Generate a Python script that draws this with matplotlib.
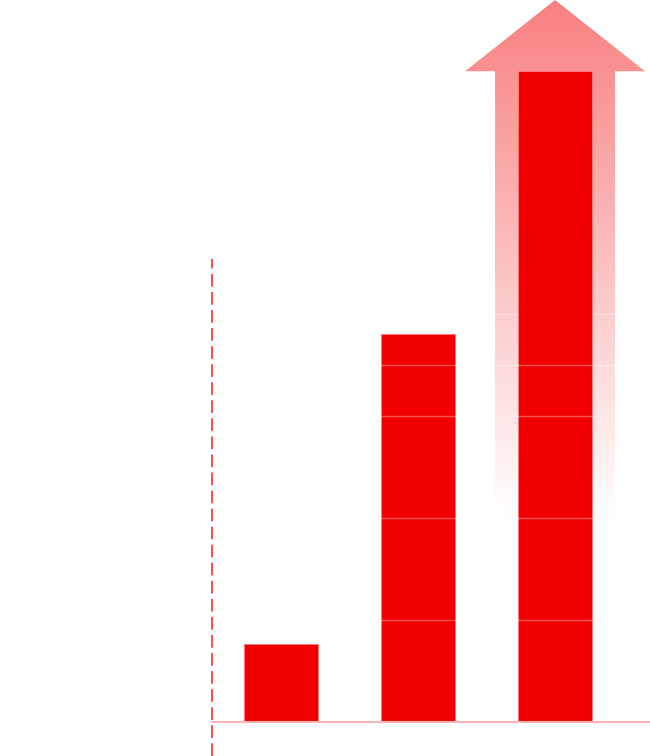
import numpy as np
import matplotlib.pyplot as plt
from matplotlib.patches import Polygon

# data
positions = [0, 1, 2]
values = [1.53, 7.61, 12.76]
grid_over_bars = [2, 4, 6, 7]
grid_arrow_only = [5, 8]

bar_color = '#f20000'

fig = plt.figure(figsize=(6.5, 7.56), dpi=100)
ax = fig.add_axes([0, 0, 1, 1])
ax.set_xlim(-2.051, 2.693)
ax.set_ylim(-0.667, 14.157)
ax.axis('off')

# arrow behind the last bar, with a fading gradient
top = ax.get_ylim()[1]
xc = positions[-1]
shaft, head = 0.438, 0.657
base = values[-1]
arrow = [(xc - shaft, 0), (xc + shaft, 0), (xc + shaft, base), (xc + head, base),
         (xc, top), (xc - head, base), (xc - shaft, base)]
poly = Polygon(arrow, closed=True, facecolor='none', edgecolor='none')
ax.add_patch(poly)

ys = np.linspace(0, top, 400)
alpha = np.clip(0.5 * (ys - 3.96) / (top - 3.96), 0, 1)
img = np.zeros((len(ys), 2, 4))
img[..., 0] = 242 / 255
img[..., 3] = alpha[:, None]
im = ax.imshow(img, extent=(xc - head, xc + head, 0, top), origin='lower',
               aspect='auto', zorder=1, interpolation='bilinear')
im.set_clip_path(poly)

# lines only visible on the arrow
for g in grid_arrow_only:
    ax.plot([xc - head, xc + head], [g, g], color='white', alpha=0.35, lw=1, zorder=2)

# bars
ax.bar(positions, values, width=0.54, color=bar_color, edgecolor='#ff7a7a',
       linewidth=0.7, zorder=3)

# grid lines over bars
for g in grid_over_bars:
    ax.axhline(g, color='white', alpha=0.35, lw=1, zorder=4)

# baseline and dashed divider
ax.plot([-0.504, 2.693], [0, 0], color='#f9b5b5', lw=1.5, zorder=5)
ax.plot([-0.504, -0.504], [-0.667, 9.08], color='#ff3b3b', lw=1.3,
        linestyle=(0, (7, 3)), zorder=5)

plt.savefig('out.png', dpi=100)
